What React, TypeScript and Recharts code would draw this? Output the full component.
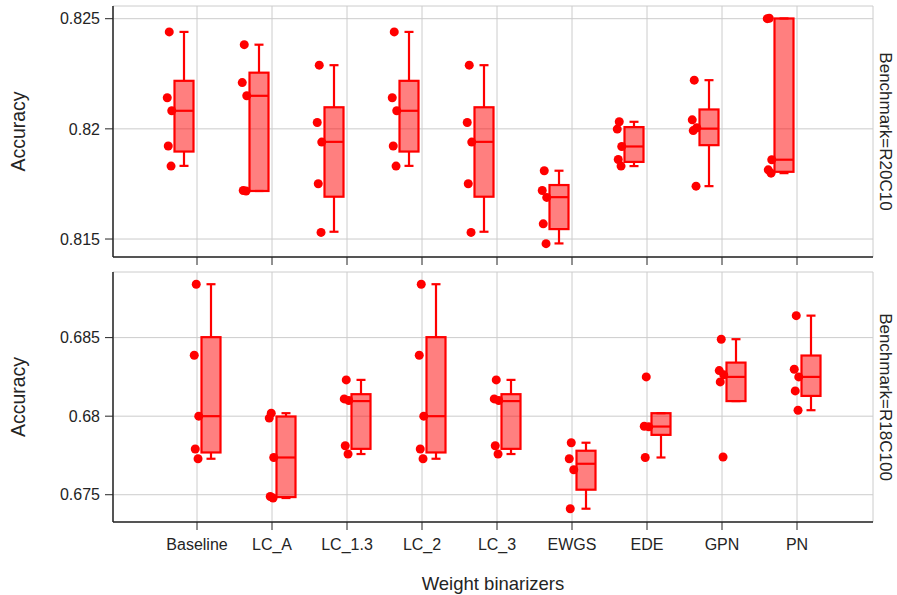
import React from 'react';
import { ComposedChart, Bar, Scatter, XAxis, YAxis, CartesianGrid } from 'recharts';

const CATEGORIES = ['Baseline', 'LC_A', 'LC_1.3', 'LC_2', 'LC_3', 'EWGS', 'EDE', 'GPN', 'PN'];

// Benchmark=R20C10, individual runs per binarizer
const R20C10_POINTS = [
  [0.8244, 0.82141, 0.82082, 0.81922, 0.81831],
  [0.82382, 0.8221, 0.8215, 0.8172, 0.81718],
  [0.82289, 0.82029, 0.8194, 0.81751, 0.8153],
  [0.8244, 0.82141, 0.82082, 0.81922, 0.81831],
  [0.82289, 0.82029, 0.8194, 0.81751, 0.8153],
  [0.8181, 0.8172, 0.81689, 0.81569, 0.81479],
  [0.82032, 0.81999, 0.8192, 0.81861, 0.81831],
  [0.82221, 0.82041, 0.82005, 0.81992, 0.8174],
  [0.82502, 0.825, 0.8186, 0.81814, 0.81799],
];
const R20C10_LOW = [0.81832, 0.81718, 0.81533, 0.81832, 0.81533, 0.8148, 0.81831, 0.8174, 0.81799];
const R20C10_Q1 = [0.81897, 0.81718, 0.81692, 0.81897, 0.81692, 0.81545, 0.8185, 0.81926, 0.81805];
const R20C10_MEDIAN = [0.82082, 0.8215, 0.81941, 0.82082, 0.81941, 0.8169, 0.8192, 0.82001, 0.8186];
const R20C10_Q3 = [0.82218, 0.82255, 0.82098, 0.82218, 0.82098, 0.81745, 0.82008, 0.82088, 0.82501];
const R20C10_HIGH = [0.8244, 0.82382, 0.82289, 0.8244, 0.82289, 0.8181, 0.82032, 0.82221, 0.82501];
const R20C10_TICKS = [0.815, 0.82, 0.825];

// Benchmark=R18C100
const R18C100_POINTS = [
  [0.6884, 0.68388, 0.68, 0.67791, 0.67729],
  [0.68019, 0.67988, 0.67737, 0.67489, 0.67479],
  [0.68231, 0.6811, 0.681, 0.67812, 0.67759],
  [0.6884, 0.68388, 0.68, 0.67791, 0.67729],
  [0.68231, 0.6811, 0.681, 0.67812, 0.67759],
  [0.67831, 0.67729, 0.67659, 0.67411],
  [0.6825, 0.67936, 0.67932, 0.67737],
  [0.6849, 0.6829, 0.68263, 0.68218, 0.6774],
  [0.6864, 0.68299, 0.6825, 0.68161, 0.68038],
];
const R18C100_LOW = [0.67729, 0.67479, 0.67759, 0.67729, 0.67759, 0.67411, 0.67737, 0.68096, 0.68038];
const R18C100_Q1 = [0.67769, 0.67485, 0.67792, 0.67769, 0.67792, 0.67532, 0.67881, 0.68096, 0.68129];
const R18C100_MEDIAN = [0.68, 0.67737, 0.68096, 0.68, 0.68096, 0.67697, 0.67934, 0.6825, 0.6825];
const R18C100_Q3 = [0.68503, 0.67998, 0.6814, 0.68503, 0.6814, 0.6778, 0.68019, 0.68341, 0.68386];
const R18C100_HIGH = [0.6884, 0.68019, 0.68231, 0.6884, 0.68231, 0.67831, 0.68019, 0.6849, 0.6864];
const R18C100_TICKS = [0.675, 0.68, 0.685];

const RED = '#ff0000';
const FONT = '"Liberation Sans", Arial, sans-serif';
const INK = '#242424';
const GRID = '#cccccc';
const BOX_W = 19;
const BOX_GAP = 8;
const JITTER = [0, -2, 2.5, -1, 1.8];

type Row = { cat: string; low: number; q1: number; median: number; q3: number; high: number };

const buildRows = (low: number[], q1: number[], med: number[], q3: number[], high: number[]): Row[] =>
  CATEGORIES.map((cat, i) => ({ cat, low: low[i], q1: q1[i], median: med[i], q3: q3[i], high: high[i] }));

const buildPoints = (pts: number[][]) =>
  CATEGORIES.flatMap((cat, i) => pts[i].map((value, j) => ({ cat, value, j })));

const boxRange = (d: Row) => [d.low, d.high];

// draws whiskers + box + median inside the range bar's rectangle
const BoxShape = (props: any) => {
  const { x, y, width, height, payload } = props;
  if (payload == null || !height) return null;
  const top = Math.min(y, y + height);
  const k = Math.abs(height) / (payload.high - payload.low);
  const py = (v: number) => top + (payload.high - v) * k;
  const cx = x + width / 2;
  const cap = 4.5;
  return (
    <g>
      <line x1={cx} x2={cx} y1={py(payload.high)} y2={py(payload.q3)} stroke={RED} strokeWidth={2.2} />
      <line x1={cx} x2={cx} y1={py(payload.q1)} y2={py(payload.low)} stroke={RED} strokeWidth={2.2} />
      <line x1={cx - cap} x2={cx + cap} y1={py(payload.high)} y2={py(payload.high)} stroke={RED} strokeWidth={2.2} />
      <line x1={cx - cap} x2={cx + cap} y1={py(payload.low)} y2={py(payload.low)} stroke={RED} strokeWidth={2.2} />
      <rect
        x={x}
        y={py(payload.q3)}
        width={width}
        height={py(payload.q1) - py(payload.q3)}
        fill="rgba(255,0,0,0.5)"
        stroke={RED}
        strokeWidth={2.2}
      />
      <line x1={x} x2={x + width} y1={py(payload.median)} y2={py(payload.median)} stroke={RED} strokeWidth={2.2} />
    </g>
  );
};

interface PanelProps {
  rows: Row[];
  points: { cat: string; value: number; j: number }[];
  domain: [number, number];
  ticks: number[];
  slot: 0 | 1; // offset group of this benchmark
  facet: string;
  height: number;
  marginTop: number;
  xAxisHeight: number;
  showLabels: boolean;
}

const Panel: React.FC<PanelProps> = ({ rows, points, domain, ticks, slot, facet, height, marginTop, xAxisHeight, showLabels }) => {
  const groupOffset = (slot === 0 ? -1 : 1) * (BOX_W + BOX_GAP) / 2;
  const pointShift = groupOffset - 1.5 * (BOX_W / 2);

  const PointShape = (p: any) => {
    if (p.cx == null || p.cy == null) return null;
    const jit = JITTER[(p.payload?.j ?? 0) % JITTER.length];
    return <circle cx={p.cx + pointShift + jit} cy={p.cy} r={4.5} fill={RED} />;
  };

  const boxBar = <Bar key="box" dataKey={boxRange} barSize={BOX_W} shape={BoxShape} isAnimationActive={false} />;
  const emptyBar = <Bar key="empty" dataKey="none" barSize={BOX_W} isAnimationActive={false} />;

  return (
    <ComposedChart
      width={897}
      height={height}
      data={rows}
      margin={{ top: marginTop, right: 0, bottom: 0, left: 0 }}
      barGap={BOX_GAP}
      style={{ fontFamily: FONT }}
    >
      <CartesianGrid stroke={GRID} strokeWidth={1} />
      <XAxis
        dataKey="cat"
        type="category"
        allowDuplicatedCategory={false}
        padding={{ left: 46.5, right: 38.5 }}
        height={xAxisHeight}
        stroke={INK}
        axisLine={{ stroke: INK, strokeWidth: 1.5 }}
        tickLine={{ stroke: INK }}
        tickSize={8}
        tickMargin={9}
        tick={{ fill: INK, fontSize: 16 }}
        tickFormatter={showLabels ? undefined : () => ''}
        interval={0}
        label={
          showLabels
            ? (lp: any) => {
                const vb = lp.viewBox;
                return (
                  <text x={vb.x + vb.width / 2} y={vb.y + vb.height - 5} textAnchor="middle" fill={INK} fontSize={18.5}>
                    Weight binarizers
                  </text>
                );
              }
            : undefined
        }
      />
      <YAxis
        type="number"
        domain={domain}
        allowDataOverflow
        ticks={ticks}
        width={113}
        axisLine={{ stroke: INK, strokeWidth: 1.5 }}
        tickLine={{ stroke: INK }}
        tickSize={8}
        tickMargin={5}
        tick={{ fill: INK, fontSize: 16 }}
        tickFormatter={(v: number) => String(+v.toFixed(3))}
        label={(lp: any) => {
          const vb = lp.viewBox;
          const cy = vb.y + vb.height / 2;
          return (
            <text x={vb.x + 18} y={cy} transform={`rotate(-90 ${vb.x + 18} ${cy})`} textAnchor="middle" dominantBaseline="central" fill={INK} fontSize={19.5}>
              Accuracy
            </text>
          );
        }}
      />
      <YAxis
        yAxisId="facet"
        orientation="right"
        width={24}
        domain={[0, 1]}
        axisLine={false}
        tickLine={false}
        tick={false}
        label={(lp: any) => {
          const vb = lp.viewBox;
          const cx = vb.x + 12;
          const cy = vb.y + vb.height / 2;
          return (
            <text x={cx} y={cy} transform={`rotate(90 ${cx} ${cy})`} textAnchor="middle" dominantBaseline="central" fill={INK} fontSize={17}>
              {facet}
            </text>
          );
        }}
      />
      {slot === 0 ? [boxBar, emptyBar] : [emptyBar, boxBar]}
      <Scatter data={points} dataKey="value" shape={PointShape} isAnimationActive={false} />
    </ComposedChart>
  );
};

export default function App() {
  const topRows = buildRows(R20C10_LOW, R20C10_Q1, R20C10_MEDIAN, R20C10_Q3, R20C10_HIGH);
  const bottomRows = buildRows(R18C100_LOW, R18C100_Q1, R18C100_MEDIAN, R18C100_Q3, R18C100_HIGH);

  return (
    <div style={{ position: 'absolute', left: 0, top: 0, width: 897, height: 595, background: '#fff', fontFamily: FONT }}>
      <div style={{ position: 'absolute', left: 0, top: 0 }}>
        <Panel
          rows={topRows}
          points={buildPoints(R20C10_POINTS)}
          domain={[0.814184, 0.825576]}
          ticks={R20C10_TICKS}
          slot={0}
          facet="Benchmark=R20C10"
          height={270}
          marginTop={6}
          xAxisHeight={13}
          showLabels={false}
        />
      </div>
      <div style={{ position: 'absolute', left: 0, top: 260 }}>
        <Panel
          rows={bottomRows}
          points={buildPoints(R18C100_POINTS)}
          domain={[0.673264, 0.689177]}
          ticks={R18C100_TICKS}
          slot={1}
          facet="Benchmark=R18C100"
          height={335}
          marginTop={12}
          xAxisHeight={73}
          showLabels
        />
      </div>
    </div>
  );
}
